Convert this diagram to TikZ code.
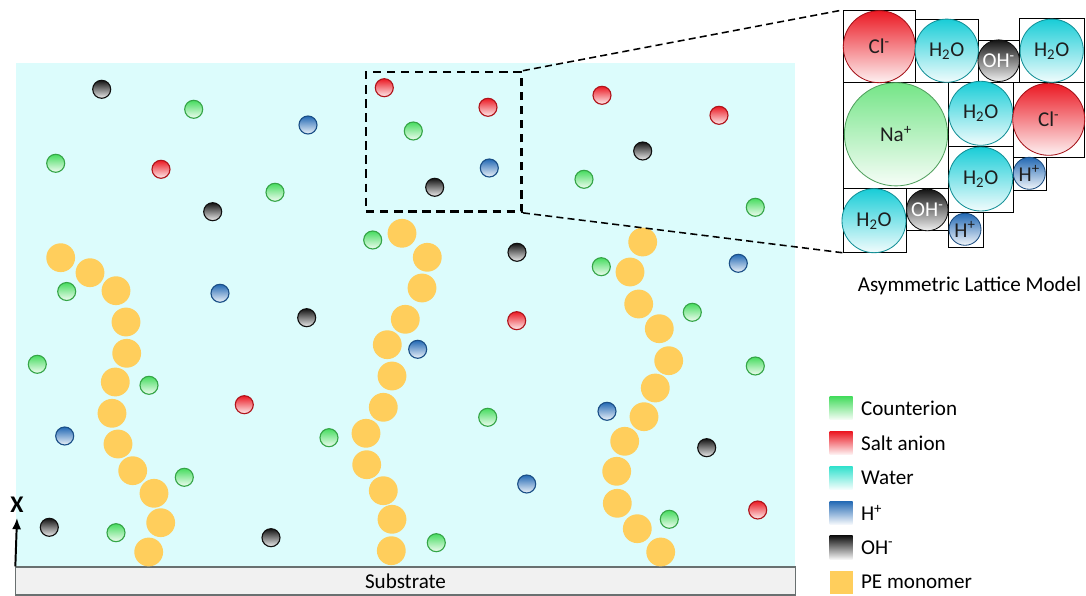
\documentclass[tikz,border=0pt]{standalone}
\usepackage{fontspec}
\setmainfont{Carlito}
\usetikzlibrary{positioning,arrows.meta}

\definecolor{water}{RGB}{220,252,252}
\definecolor{substr}{RGB}{241,241,241}
\definecolor{edgegray}{RGB}{105,112,112}
\definecolor{ionGreen}{RGB}{70,220,95}
\definecolor{ionRed}{RGB}{235,25,35}
\definecolor{ionCyan}{RGB}{25,205,215}
\definecolor{legCyan}{RGB}{50,225,205}
\definecolor{ionBlue}{RGB}{35,105,180}
\definecolor{ionBlack}{RGB}{20,20,20}
\definecolor{monomer}{RGB}{255,206,92}
\definecolor{darktext}{RGB}{30,30,30}

\begin{document}
\begin{tikzpicture}[x=0.025cm, y=-0.025cm, font=\fontsize{15}{18}\selectfont,
	ball/.style={circle, inner sep=0pt, minimum size=0.45cm, line width=0.8pt,
		draw=#1!75!black, top color=#1, bottom color=#1!8!white},
	mono/.style={circle, inner sep=0pt, minimum size=0.72cm, fill=monomer},
	cell/.style={draw, line width=0.6pt, anchor=north west, inner sep=0pt},
	ion/.style={circle, inner sep=0pt, text=darktext, line width=0.6pt,
		draw=#1!70!black, top color=#1, bottom color=#1!6!white},
	key/.style={inner sep=0pt, minimum size=0.575cm, top color=#1, bottom color=#1!5!white},
	link/.style={line width=1.1pt, dash pattern=on 5pt off 3pt}]
	\useasboundingbox (0,0) rectangle (1086,596);
	
	% solution and substrate
	\node[fill=water, inner sep=0pt, minimum width=19.475cm, minimum height=12.6cm] (panel) at (405.5,315) {};
	\node[draw=edgegray, fill=substr, line width=0.8pt, inner sep=0pt, minimum width=19.475cm, minimum height=0.7cm] (sub) at (405.5,581) {Substrate};
	
	% ions in solution
	\foreach \x/\y [count=\i] in {101.7/89.3, 212.7/211.7, 306.7/317.7, 434.7/187.3, 517/252.3, 642.7/151, 706.7/447.7, 49.3/527.3, 271/537.7}
		\node[ball=ionBlack] (oh\i) at (\x,\y) {};
	\foreach \x/\y [count=\i] in {193.7/109.3, 55.7/163.3, 275/192.3, 66.7/291.5, 37.3/364.3, 149/385.3, 329/437.7, 184.3/477.3, 116/532.7, 413.3/131, 372.7/240, 601.3/266.7, 584/179.3, 755.3/207.3, 692.3/312.3, 755.3/366, 487.7/417.3, 436.3/542.7, 669.3/519.3}
		\node[ball=ionGreen] (na\i) at (\x,\y) {};
	\foreach \x/\y [count=\i] in {161/169.3, 244.3/404.7, 384.3/87.7, 488/107.3, 602/95.3, 719/115.3, 516.7/320.7, 757.7/510}
		\node[ball=ionRed] (cl\i) at (\x,\y) {};
	\foreach \x/\y [count=\i] in {308/125, 220/293.3, 417.7/349.3, 64.7/436, 489.3/168, 526.7/484, 607/411.3, 738.3/263.3}
		\node[ball=ionBlue] (hp\i) at (\x,\y) {};
	
	% polyelectrolyte chains
	\foreach \x/\y [count=\i] in {60.7/257.7, 90/272.7, 116/290.7, 126/322, 126.7/353.3, 115.3/382, 112/413.3, 118/444, 132.7/470.7, 154/493.3, 160.7/522.7, 148.7/552}
		\node[mono] (pa\i) at (\x,\y) {};
	\foreach \x/\y [count=\i] in {402/233.3, 427.3/257.3, 422/288, 405.3/319.3, 387.3/344.7, 392/376, 383.3/407.3, 366/433.3, 366.7/464.7, 383.3/490.7, 392/519.3, 391.3/550.7}
		\node[mono] (pb\i) at (\x,\y) {};
	\foreach \x/\y [count=\i] in {642.7/242, 630/272, 638.7/304, 659.3/328.7, 668.7/360.7, 655.3/388, 644/416.7, 624.7/441.3, 616.7/471.3, 617.3/503.3, 637.3/528.7, 660.7/552}
		\node[mono] (pc\i) at (\x,\y) {};
	
	% zoomed region
	\node[draw, line width=1.8pt, dash pattern=on 6pt off 4pt, inner sep=0pt, minimum width=3.89cm, minimum height=3.49cm] (zoom) at (443.8,141.8) {};
	
	% lattice cells
	\node[cell, minimum width=1.815cm, minimum height=1.8cm] (cCl1) at (842.7,10) {};
	\node[cell, minimum width=1.575cm, minimum height=1.58cm] (cW1) at (915.3,18.7) {};
	\node[cell, minimum width=1.025cm, minimum height=1.05cm] (cOH1) at (978.3,40) {};
	\node[cell, minimum width=1.62cm, minimum height=1.59cm] (cW2) at (1019.3,18.3) {};
	\node[cell, minimum width=2.64cm, minimum height=2.66cm] (cNa) at (842.7,82) {};
	\node[cell, minimum width=1.61cm, minimum height=1.59cm] (cW3) at (948.3,82) {};
	\node[cell, minimum width=1.78cm, minimum height=1.87cm] (cCl2) at (1012.7,82) {};
	\node[cell, minimum width=1.61cm, minimum height=1.65cm] (cW4) at (948.3,145.7) {};
	\node[cell, minimum width=0.83cm, minimum height=0.83cm] (cH1) at (1012.7,156.7) {};
	\node[cell, minimum width=1.58cm, minimum height=1.59cm] (cW5) at (842.7,188.3) {};
	\node[cell, minimum width=1.06cm, minimum height=1.04cm] (cOH2) at (906,188.3) {};
	\node[cell, minimum width=0.86cm, minimum height=0.875cm] (cH2) at (948.3,211.7) {};
	
	% lattice species
	\node[ion=ionRed, minimum size=1.8cm] (lCl1) at (879.3,46.7) {Cl\textsuperscript{-}};
	\node[ion=ionCyan, minimum size=1.58cm] (lW1) at (946.7,50.7) {H\textsubscript{2}O};
	\node[ion=ionBlack, minimum size=1.04cm, text=white] (lOH1) at (998.7,60.7) {OH\textsuperscript{-}};
	\node[ion=ionCyan, minimum size=1.58cm] (lW2) at (1051.7,50.7) {H\textsubscript{2}O};
	\node[ion=ionGreen!75!white, minimum size=2.58cm] (lNa) at (896,134.3) {Na\textsuperscript{+}};
	\node[ion=ionCyan, minimum size=1.6cm] (lW3) at (980.7,113.3) {H\textsubscript{2}O};
	\node[ion=ionRed, minimum size=1.8cm] (lCl2) at (1048.7,119.3) {Cl\textsuperscript{-}};
	\node[ion=ionCyan, minimum size=1.6cm] (lW4) at (980.7,179) {H\textsubscript{2}O};
	\node[ion=ionBlue, minimum size=0.8cm] (lH1) at (1029.3,173.3) {H\textsuperscript{+}};
	\node[ion=ionCyan, minimum size=1.6cm] (lW5) at (874,220.7) {H\textsubscript{2}O};
	\node[ion=ionBlack, minimum size=1.04cm, text=white] (lOH2) at (927.3,210) {OH\textsuperscript{-}};
	\node[ion=ionBlue, minimum size=0.8cm] (lH2) at (965,229.3) {H\textsuperscript{+}};
	\node (title) at (969.5,286) {Asymmetric Lattice Model};
	
	\draw[link] (zoom.north east) -- (cCl1.north west);
	\draw[link] (zoom.south east) -- (cW5.south west);
	
	% legend
	\foreach \c/\lab [count=\i] in {ionGreen/Counterion, ionRed/Salt anion, legCyan/Water, ionBlue/H\textsuperscript{+}, ionBlack/OH\textsuperscript{-}}{
		\node[key=\c] (key\i) at (841,373.5+34.8*\i) {};
		\node[right=0.2cm of key\i, inner sep=0pt] (keytxt\i) {\lab};
	}
	\node[inner sep=0pt, minimum size=0.575cm, fill=monomer] (key6) at (841,582.3) {};
	\node[right=0.2cm of key6, inner sep=0pt] (keytxt6) {PE monomer};
	
	% height axis
	\node[inner sep=0pt, font=\fontsize{17}{18}\selectfont\bfseries] (xlab) at (17,505) {X};
	\coordinate (xtip) at (17,518);
	\draw[-{Latex[length=8pt,width=6.5pt]}, line width=1.4pt] (sub.north west) -- (xtip);
\end{tikzpicture}
\end{document}
